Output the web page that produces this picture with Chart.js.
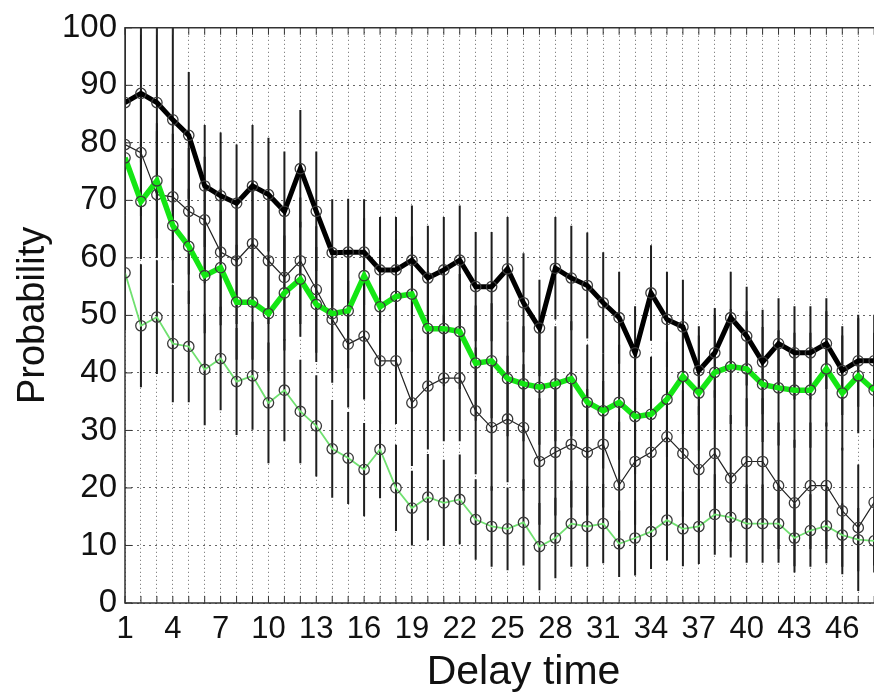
<!DOCTYPE html>
<html>
<head>
<meta charset="utf-8">
<script src="https://cdn.jsdelivr.net/npm/chart.js@4.4.1/dist/chart.umd.min.js"></script>
<style>
html, body { margin: 0; padding: 0; background: #fff; overflow: hidden; }
#wrap { width: 874px; height: 699px; overflow: hidden; }
canvas { display: block; }
</style>
</head>
<body>
<div id="wrap"><canvas id="chart" width="930" height="699"></canvas></div>
<script>
// delay time 1..48 (the figure is cropped just after 47)
const delays = Array.from({ length: 48 }, (_, i) => i + 1);
const xTickLabels = [1, 4, 7, 10, 13, 16, 19, 22, 25, 28, 31, 34, 37, 40, 43, 46];

// thick black
const blackThick = [87.0, 88.6, 87.0, 84.0, 81.3, 72.5, 70.8, 69.5, 72.5, 71.0, 68.1, 75.5, 68.1, 60.9, 61.0, 61.0,
    57.9, 57.9, 59.6, 56.5, 57.9, 59.6, 55.0, 55.0, 58.1, 52.2, 47.8, 58.2, 56.5, 55.2, 52.2, 49.6,
    43.5, 53.9, 49.3, 48.0, 40.4, 43.5, 49.6, 46.4, 41.9, 45.1, 43.5, 43.5, 45.1, 40.4, 42.1, 42.1];
const blackThickErr = [13, 12, 13, 16, 11, 10.6, 11, 10.2, 10.6, 9.9, 10.4, 10.2, 10.4, 9.3, 9.3, 9.2,
    9.2, 9.2, 9.5, 9.1, 9.2, 9.5, 9.5, 9.5, 9.0, 8.6, 8.4, 8.9, 9.1, 9.2, 8.8, 8.0,
    8.1, 8.3, 8.3, 8.2, 7.7, 7.8, 8.0, 8.6, 9.1, 7.9, 8.1, 8.1, 7.9, 7.7, 8.0, 8.0];

// thick green
const greenThick = [77.4, 69.8, 73.4, 65.6, 62.0, 56.9, 58.3, 52.3, 52.3, 50.3, 53.9, 56.3, 51.9, 50.3, 50.8, 56.9,
    51.5, 53.3, 53.7, 47.7, 47.7, 47.2, 41.7, 42.1, 39.0, 38.1, 37.5, 38.1, 39.0, 34.9, 33.4, 34.9,
    32.4, 32.8, 35.4, 39.4, 36.5, 40.1, 41.1, 40.7, 38.0, 37.4, 37.0, 37.0, 40.7, 36.5, 39.5, 37.0];
const greenThickErr = [10, 10, 10, 10, 10, 10, 10, 10, 10, 10, 10, 10, 10, 10, 10, 10,
    10, 10, 10, 10, 10, 10, 10, 10, 10, 10, 10, 10, 10, 10, 10, 10,
    10, 10, 10, 10, 10, 10, 10, 10, 10, 10, 10, 10, 10, 10, 10, 10];

// thin black
const blackThin = [79.7, 78.3, 71.0, 70.6, 68.1, 66.6, 61.0, 59.5, 62.5, 59.5, 56.6, 59.5, 54.5, 49.3, 45.0, 46.4,
    42.1, 42.1, 34.8, 37.7, 39.1, 39.1, 33.4, 30.5, 32.0, 30.5, 24.6, 26.2, 27.6, 26.2, 27.6, 20.5,
    24.6, 26.2, 28.9, 26.0, 23.2, 26.0, 21.7, 24.6, 24.6, 20.4, 17.4, 20.4, 20.4, 16.0, 13.1, 17.5];
const blackThinErr = [11, 11, 11, 11, 11, 11, 11, 11, 11, 11, 11, 11, 11, 11, 11, 11,
    11, 11, 11, 11, 11, 11, 11, 11, 11, 11, 11, 11, 11, 11, 11, 11,
    11, 11, 11, 11, 11, 11, 11, 11, 11, 11, 11, 11, 11, 11, 11, 11];

// thin green
const greenThin = [57.4, 48.2, 49.7, 45.1, 44.6, 40.6, 42.5, 38.5, 39.5, 34.8, 37.0, 33.3, 30.8, 26.8, 25.2, 23.2,
    26.7, 20.0, 16.5, 18.4, 17.4, 18.0, 14.5, 13.3, 12.9, 14.0, 9.8, 11.3, 13.8, 13.3, 13.8, 10.3,
    11.3, 12.4, 14.4, 12.9, 13.3, 15.4, 14.9, 13.8, 13.8, 13.8, 11.3, 12.6, 13.4, 11.8, 11.0, 10.8];
const greenThinErr = [10, 10.7, 9.9, 10.2, 9.7, 9.7, 9.0, 9.3, 9.4, 10.5, 8.9, 9.0, 8.8, 8.5, 8.0, 8.1,
    8.5, 7.5, 6.5, 7.5, 7.5, 7.8, 7.0, 7.0, 7.2, 7.5, 7.6, 7.0, 7.5, 7.0, 6.9, 5.8,
    6.5, 6.5, 7.0, 6.5, 6.5, 7.0, 7.0, 6.8, 6.8, 6.8, 6.0, 6.3, 6.5, 5.5, 5.5, 5.5];

const FONT = 'Liberation Sans, Arial, Helvetica, sans-serif';

function series(values, errors, color, width) {
    return {
        data: values.map((v, i) => ({ x: delays[i], y: v })),
        errors: errors,
        borderColor: color,
        borderWidth: width,
        pointRadius: 5.2,
        pointBorderWidth: 1.3,
        pointBorderColor: '#3a3a3a',
        pointBackgroundColor: 'rgba(0,0,0,0)',
        tension: 0,
        clip: true
    };
}

// vertical error bars under the lines
const errorBars = {
    id: 'errorBars',
    beforeDatasetsDraw(chart) {
        const { ctx, chartArea: a, scales: { x, y } } = chart;
        ctx.save();
        ctx.beginPath();
        ctx.rect(a.left, a.top, a.right - a.left, a.bottom - a.top);
        ctx.clip();
        ctx.strokeStyle = '#1e1e1e';
        ctx.lineWidth = 2;
        chart.data.datasets.forEach(ds => {
            ds.data.forEach((p, i) => {
                const px = x.getPixelForValue(p.x);
                ctx.beginPath();
                ctx.moveTo(px, y.getPixelForValue(p.y - ds.errors[i]));
                ctx.lineTo(px, y.getPixelForValue(p.y + ds.errors[i]));
                ctx.stroke();
            });
        });
        ctx.restore();
    }
};

// matlab style box with inward ticks
const frame = {
    id: 'frame',
    afterDraw(chart) {
        const { ctx, chartArea: a, scales: { x, y } } = chart;
        ctx.save();
        ctx.strokeStyle = '#333';
        ctx.lineWidth = 1.5;
        ctx.beginPath();
        ctx.moveTo(a.right, a.top);
        ctx.lineTo(a.left, a.top);
        ctx.lineTo(a.left, a.bottom);
        ctx.lineTo(a.right, a.bottom);
        ctx.stroke();
        ctx.lineWidth = 1;
        ctx.beginPath();
        x.ticks.forEach(t => {
            const px = x.getPixelForValue(t.value);
            ctx.moveTo(px, a.bottom);
            ctx.lineTo(px, a.bottom - 7);
            ctx.moveTo(px, a.top);
            ctx.lineTo(px, a.top + 7);
        });
        y.ticks.forEach(t => {
            const py = y.getPixelForValue(t.value);
            ctx.moveTo(a.left, py);
            ctx.lineTo(a.left + 7, py);
        });
        ctx.stroke();
        ctx.restore();
    }
};

new Chart(document.getElementById('chart'), {
    type: 'line',
    data: {
        datasets: [
            series(blackThick, blackThickErr, '#000', 5),
            series(greenThick, greenThickErr, '#14e614', 5.5),
            series(blackThin, blackThinErr, '#222', 1.2),
            series(greenThin, greenThinErr, '#70e070', 1.8)
        ]
    },
    options: {
        responsive: false,
        animation: false,
        devicePixelRatio: 1,
        layout: { padding: { top: 22, right: 5, left: 0, bottom: 0 } },
        plugins: { legend: { display: false }, tooltip: { enabled: false } },
        scales: {
            x: {
                type: 'linear',
                min: 1,
                max: 51,
                afterFit: s => { s.height = 96; },
                ticks: {
                    stepSize: 1,
                    autoSkip: false,
                    maxTicksLimit: 100,
                    maxRotation: 0,
                    padding: 8,
                    color: '#111',
                    font: { family: FONT, size: 31 },
                    callback: v => xTickLabels.includes(v) ? String(v) : ''
                },
                grid: { color: '#666', lineWidth: 1, drawTicks: false },
                border: { display: false, dash: [1, 3] },
                title: {
                    display: true,
                    text: 'Delay time',
                    color: '#111',
                    font: { family: FONT, size: 41 },
                    padding: { top: 0, bottom: 2 }
                }
            },
            y: {
                min: 0,
                max: 100,
                afterFit: s => { s.width = 125; },
                ticks: {
                    stepSize: 10,
                    padding: 8,
                    color: '#111',
                    font: { family: FONT, size: 33 }
                },
                grid: { color: '#666', lineWidth: 1, drawTicks: false },
                border: { display: false, dash: [2, 4] },
                title: {
                    display: true,
                    text: 'Probability',
                    color: '#111',
                    font: { family: FONT, size: 38 },
                    padding: { top: 11, bottom: 0 }
                }
            }
        }
    },
    plugins: [errorBars, frame]
});
</script>
</body>
</html>
